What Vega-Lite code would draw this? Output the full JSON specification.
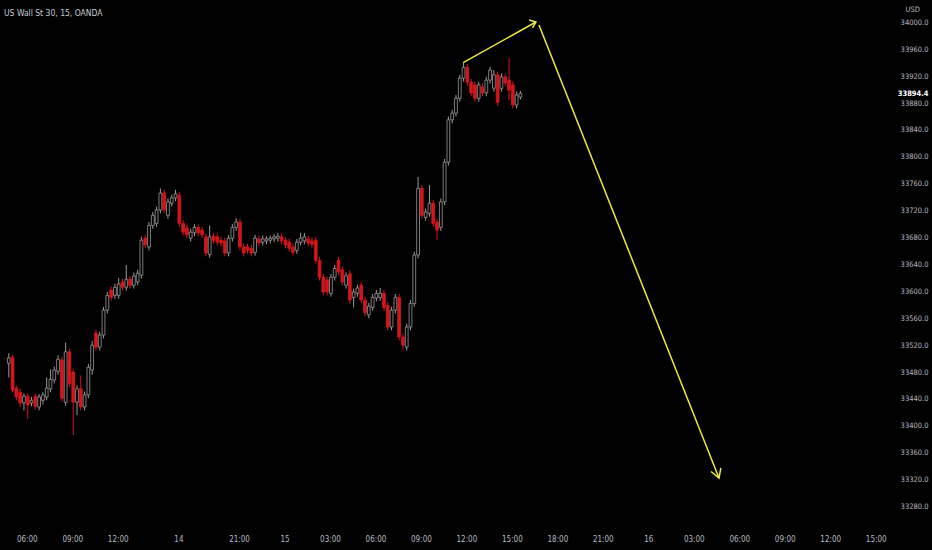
{
  "$schema": "https://vega.github.io/schema/vega-lite/v6.json",
  "width": 893,
  "height": 522,
  "autosize": {"type": "none"},
  "padding": {"left": 0, "top": 0, "right": 39, "bottom": 28},
  "background": "#000000",
  "title": {
    "text": "US Wall St 30, 15, OANDA",
    "anchor": "start",
    "frame": "group",
    "orient": "top",
    "offset": 0,
    "dy": 17,
    "dx": 4,
    "baseline": "top",
    "font": "Liberation Sans Narrow, DejaVu Sans Condensed, sans-serif",
    "fontSize": 8.5,
    "fontWeight": "normal",
    "color": "#c9ccd4"
  },
  "datasets": {
    "candles": [
      {"i":1,"o":33493,"h":33508,"l":33472,"c":33501},
      {"i":2,"o":33502,"h":33506,"l":33450,"c":33453},
      {"i":3,"o":33456,"h":33460,"l":33438,"c":33443},
      {"i":4,"o":33450,"h":33455,"l":33428,"c":33434},
      {"i":5,"o":33434,"h":33448,"l":33423,"c":33444},
      {"i":6,"o":33444,"h":33448,"l":33410,"c":33431},
      {"i":7,"o":33434,"h":33443,"l":33429,"c":33438},
      {"i":8,"o":33444,"h":33448,"l":33424,"c":33429},
      {"i":9,"o":33428,"h":33447,"l":33423,"c":33443},
      {"i":10,"o":33438,"h":33450,"l":33432,"c":33446},
      {"i":11,"o":33443,"h":33472,"l":33438,"c":33456},
      {"i":12,"o":33455,"h":33484,"l":33450,"c":33469},
      {"i":13,"o":33468,"h":33488,"l":33463,"c":33483},
      {"i":14,"o":33481,"h":33505,"l":33476,"c":33499},
      {"i":15,"o":33498,"h":33503,"l":33436,"c":33441},
      {"i":16,"o":33435,"h":33524,"l":33430,"c":33510},
      {"i":17,"o":33510,"h":33515,"l":33458,"c":33463},
      {"i":18,"o":33480,"h":33484,"l":33386,"c":33435},
      {"i":19,"o":33435,"h":33460,"l":33416,"c":33455},
      {"i":20,"o":33455,"h":33475,"l":33423,"c":33428},
      {"i":21,"o":33428,"h":33451,"l":33423,"c":33446},
      {"i":22,"o":33446,"h":33492,"l":33441,"c":33487},
      {"i":23,"o":33483,"h":33526,"l":33476,"c":33520},
      {"i":24,"o":33538,"h":33543,"l":33512,"c":33517},
      {"i":25,"o":33517,"h":33540,"l":33512,"c":33535},
      {"i":26,"o":33535,"h":33577,"l":33530,"c":33572},
      {"i":27,"o":33572,"h":33599,"l":33567,"c":33594},
      {"i":28,"o":33602,"h":33607,"l":33586,"c":33591},
      {"i":29,"o":33594,"h":33611,"l":33589,"c":33606},
      {"i":30,"o":33594,"h":33620,"l":33589,"c":33611},
      {"i":31,"o":33614,"h":33619,"l":33601,"c":33606},
      {"i":32,"o":33606,"h":33639,"l":33601,"c":33618},
      {"i":33,"o":33618,"h":33623,"l":33604,"c":33609},
      {"i":34,"o":33609,"h":33628,"l":33604,"c":33623},
      {"i":35,"o":33614,"h":33632,"l":33609,"c":33627},
      {"i":36,"o":33624,"h":33681,"l":33619,"c":33676},
      {"i":37,"o":33679,"h":33684,"l":33664,"c":33669},
      {"i":38,"o":33666,"h":33703,"l":33661,"c":33698},
      {"i":39,"o":33698,"h":33718,"l":33693,"c":33713},
      {"i":40,"o":33701,"h":33726,"l":33696,"c":33721},
      {"i":41,"o":33721,"h":33753,"l":33716,"c":33746},
      {"i":42,"o":33746,"h":33751,"l":33716,"c":33721},
      {"i":43,"o":33713,"h":33738,"l":33708,"c":33733},
      {"i":44,"o":33731,"h":33744,"l":33726,"c":33739},
      {"i":45,"o":33739,"h":33751,"l":33734,"c":33745},
      {"i":46,"o":33743,"h":33748,"l":33696,"c":33701},
      {"i":47,"o":33701,"h":33706,"l":33683,"c":33688},
      {"i":48,"o":33694,"h":33699,"l":33679,"c":33684},
      {"i":49,"o":33679,"h":33693,"l":33674,"c":33688},
      {"i":50,"o":33687,"h":33700,"l":33682,"c":33695},
      {"i":51,"o":33695,"h":33700,"l":33682,"c":33687},
      {"i":52,"o":33691,"h":33696,"l":33679,"c":33684},
      {"i":53,"o":33681,"h":33686,"l":33652,"c":33657},
      {"i":54,"o":33655,"h":33698,"l":33650,"c":33681},
      {"i":55,"o":33682,"h":33687,"l":33671,"c":33676},
      {"i":56,"o":33681,"h":33686,"l":33668,"c":33673},
      {"i":57,"o":33676,"h":33681,"l":33667,"c":33672},
      {"i":58,"o":33675,"h":33680,"l":33652,"c":33657},
      {"i":59,"o":33657,"h":33684,"l":33652,"c":33679},
      {"i":60,"o":33679,"h":33700,"l":33674,"c":33695},
      {"i":61,"o":33695,"h":33709,"l":33690,"c":33703},
      {"i":62,"o":33703,"h":33708,"l":33661,"c":33666},
      {"i":63,"o":33666,"h":33671,"l":33652,"c":33657},
      {"i":64,"o":33666,"h":33671,"l":33656,"c":33661},
      {"i":65,"o":33664,"h":33669,"l":33652,"c":33657},
      {"i":66,"o":33658,"h":33684,"l":33653,"c":33679},
      {"i":67,"o":33678,"h":33683,"l":33667,"c":33672},
      {"i":68,"o":33673,"h":33683,"l":33668,"c":33678},
      {"i":69,"o":33675,"h":33682,"l":33670,"c":33678},
      {"i":70,"o":33676,"h":33683,"l":33671,"c":33679},
      {"i":71,"o":33678,"h":33685,"l":33673,"c":33681},
      {"i":72,"o":33679,"h":33687,"l":33674,"c":33682},
      {"i":73,"o":33681,"h":33686,"l":33670,"c":33675},
      {"i":74,"o":33676,"h":33681,"l":33664,"c":33669},
      {"i":75,"o":33673,"h":33678,"l":33659,"c":33664},
      {"i":76,"o":33666,"h":33671,"l":33653,"c":33658},
      {"i":77,"o":33661,"h":33678,"l":33656,"c":33673},
      {"i":78,"o":33673,"h":33687,"l":33668,"c":33679},
      {"i":79,"o":33675,"h":33687,"l":33670,"c":33681},
      {"i":80,"o":33678,"h":33683,"l":33667,"c":33672},
      {"i":81,"o":33675,"h":33680,"l":33665,"c":33670},
      {"i":82,"o":33676,"h":33681,"l":33641,"c":33646},
      {"i":83,"o":33646,"h":33651,"l":33616,"c":33621},
      {"i":84,"o":33621,"h":33626,"l":33594,"c":33599},
      {"i":85,"o":33617,"h":33622,"l":33594,"c":33599},
      {"i":86,"o":33597,"h":33626,"l":33592,"c":33621},
      {"i":87,"o":33621,"h":33639,"l":33616,"c":33634},
      {"i":88,"o":33646,"h":33651,"l":33624,"c":33629},
      {"i":89,"o":33632,"h":33637,"l":33609,"c":33614},
      {"i":90,"o":33609,"h":33628,"l":33604,"c":33623},
      {"i":91,"o":33626,"h":33631,"l":33582,"c":33587},
      {"i":92,"o":33591,"h":33604,"l":33576,"c":33599},
      {"i":93,"o":33597,"h":33610,"l":33592,"c":33605},
      {"i":94,"o":33609,"h":33614,"l":33582,"c":33587},
      {"i":95,"o":33587,"h":33592,"l":33563,"c":33568},
      {"i":96,"o":33565,"h":33583,"l":33560,"c":33578},
      {"i":97,"o":33576,"h":33596,"l":33571,"c":33591},
      {"i":98,"o":33590,"h":33602,"l":33585,"c":33597},
      {"i":99,"o":33591,"h":33605,"l":33586,"c":33597},
      {"i":100,"o":33597,"h":33602,"l":33571,"c":33576},
      {"i":101,"o":33579,"h":33584,"l":33542,"c":33547},
      {"i":102,"o":33547,"h":33577,"l":33542,"c":33572},
      {"i":103,"o":33572,"h":33596,"l":33567,"c":33591},
      {"i":104,"o":33591,"h":33596,"l":33527,"c":33532},
      {"i":105,"o":33532,"h":33537,"l":33513,"c":33520},
      {"i":106,"o":33517,"h":33552,"l":33512,"c":33547},
      {"i":107,"o":33547,"h":33587,"l":33542,"c":33582},
      {"i":108,"o":33582,"h":33659,"l":33577,"c":33654},
      {"i":109,"o":33654,"h":33770,"l":33649,"c":33753},
      {"i":110,"o":33753,"h":33758,"l":33708,"c":33713},
      {"i":111,"o":33710,"h":33723,"l":33705,"c":33718},
      {"i":112,"o":33716,"h":33758,"l":33711,"c":33731},
      {"i":113,"o":33731,"h":33736,"l":33696,"c":33701},
      {"i":114,"o":33703,"h":33708,"l":33676,"c":33691},
      {"i":115,"o":33695,"h":33738,"l":33690,"c":33733},
      {"i":116,"o":33733,"h":33797,"l":33728,"c":33792},
      {"i":117,"o":33792,"h":33860,"l":33787,"c":33855},
      {"i":118,"o":33855,"h":33870,"l":33850,"c":33865},
      {"i":119,"o":33865,"h":33892,"l":33860,"c":33887},
      {"i":120,"o":33887,"h":33922,"l":33882,"c":33917},
      {"i":121,"o":33917,"h":33941,"l":33912,"c":33933},
      {"i":122,"o":33933,"h":33938,"l":33906,"c":33911},
      {"i":123,"o":33911,"h":33916,"l":33890,"c":33895},
      {"i":124,"o":33907,"h":33912,"l":33882,"c":33887},
      {"i":125,"o":33887,"h":33912,"l":33882,"c":33907},
      {"i":126,"o":33904,"h":33909,"l":33890,"c":33895},
      {"i":127,"o":33895,"h":33919,"l":33890,"c":33914},
      {"i":128,"o":33914,"h":33934,"l":33909,"c":33929},
      {"i":129,"o":33902,"h":33929,"l":33897,"c":33922},
      {"i":130,"o":33922,"h":33927,"l":33876,"c":33881},
      {"i":131,"o":33902,"h":33924,"l":33897,"c":33919},
      {"i":132,"o":33919,"h":33924,"l":33905,"c":33910},
      {"i":133,"o":33914,"h":33947,"l":33884,"c":33899},
      {"i":134,"o":33907,"h":33912,"l":33872,"c":33877},
      {"i":135,"o":33877,"h":33897,"l":33872,"c":33892},
      {"i":136,"o":33889,"h":33898,"l":33885,"c":33894.4}
    ],
    "arrows": [
      {"s":"a1","k":0,"x":120.9,"p":33940},
      {"s":"a1","k":1,"x":140.1,"p":34000.5},
      {"s":"h1","k":0,"x":138.3,"p":34003.5},
      {"s":"h1","k":1,"x":140.1,"p":34000.5},
      {"s":"h1","k":2,"x":139.2,"p":33991.6},
      {"s":"a2","k":0,"x":140.9,"p":33996.0},
      {"s":"a2","k":1,"x":188.4,"p":33322.4},
      {"s":"h2","k":0,"x":186.3,"p":33332.1},
      {"s":"h2","k":1,"x":188.4,"p":33322.4},
      {"s":"h2","k":2,"x":188.9,"p":33337.3}
    ],
    "last": [{"price": 33894.4}]
  },
  "layer": [
    {
      "data": {"name": "last"},
      "mark": {"type": "rule", "color": "#5e2750", "strokeWidth": 1},
      "encoding": {
        "y": {"field": "price", "type": "quantitative"}
      }
    },
    {
      "data": {"name": "candles"},
      "mark": {"type": "rule", "strokeWidth": 1},
      "encoding": {
        "x": {"field": "i", "type": "quantitative"},
        "y": {"field": "l", "type": "quantitative"},
        "y2": {"field": "h"},
        "stroke": {"condition": {"test": "datum.c >= datum.o", "value": "#9a9a9a"}, "value": "#d4161b"}
      }
    },
    {
      "data": {"name": "candles"},
      "mark": {"type": "bar", "width": 2.8, "strokeWidth": 0.8},
      "encoding": {
        "x": {"field": "i", "type": "quantitative"},
        "y": {"field": "o", "type": "quantitative"},
        "y2": {"field": "c"},
        "fill": {"condition": {"test": "datum.c >= datum.o", "value": "#000000"}, "value": "#d4161b"},
        "stroke": {"condition": {"test": "datum.c >= datum.o", "value": "#9a9a9a"}, "value": "#d4161b"}
      }
    },
    {
      "data": {"name": "arrows"},
      "mark": {"type": "line", "color": "#ecec3c", "strokeWidth": 1.5, "clip": false},
      "encoding": {
        "x": {"field": "x", "type": "quantitative"},
        "y": {"field": "p", "type": "quantitative"},
        "detail": {"field": "s"},
        "order": {"field": "k"}
      }
    }
  ],
  "resolve": {"scale": {"x": "shared", "y": "shared"}},
  "encoding": {
    "x": {
      "field": "i",
      "type": "quantitative",
      "scale": {"domain": [0, 233], "nice": false, "zero": false},
      "axis": {
        "title": null,
        "orient": "bottom",
        "values": [5.75, 17.75, 29.75, 45.75, 61.75, 73.75, 85.75, 97.75, 109.75, 121.75, 133.75, 145.75, 157.75, 169.75, 181.75, 193.75, 205.75, 217.75, 229.75],
        "labelExpr": "['06:00','09:00','12:00','14','21:00','15','03:00','06:00','09:00','12:00','15:00','18:00','21:00','16','03:00','06:00','09:00','12:00','15:00'][indexof([5.75, 17.75, 29.75, 45.75, 61.75, 73.75, 85.75, 97.75, 109.75, 121.75, 133.75, 145.75, 157.75, 169.75, 181.75, 193.75, 205.75, 217.75, 229.75], datum.value)]",
        "domain": false,
        "ticks": false,
        "grid": false,
        "labelOverlap": false,
        "labelFlush": false,
        "labelBound": false,
        "labelPadding": 13,
        "labelBaseline": "top",
        "labelFont": "Liberation Sans Narrow, DejaVu Sans Condensed, sans-serif",
        "labelFontSize": 8,
        "labelColor": "#b8bbc4"
      }
    },
    "y": {
      "type": "quantitative",
      "scale": {"domain": [33257, 34033.2], "nice": false, "zero": false},
      "axis": {
        "title": "USD",
        "orient": "right",
        "values": [33280, 33320, 33360, 33400, 33440, 33480, 33520, 33560, 33600, 33640, 33680, 33720, 33760, 33800, 33840, 33880, 33894.4, 33920, 33960, 34000],
        "format": ".1f",
        "domain": false,
        "ticks": false,
        "grid": false,
        "labelOverlap": false,
        "labelFlush": false,
        "labelBound": false,
        "labelAlign": "right",
        "labelBaseline": "middle",
        "labelPadding": 35,
        "labelFont": "Liberation Sans Narrow, DejaVu Sans Condensed, sans-serif",
        "labelFontSize": 7.5,
        "labelColor": {"condition": {"test": "datum.value == 33894.4", "value": "#ffffff"}, "value": "#b8bbc4"},
        "labelFontWeight": {"condition": {"test": "datum.value == 33894.4", "value": "bold"}, "value": "normal"},
        "titleAngle": 0,
        "titleAlign": "left",
        "titleBaseline": "middle",
        "titleX": 12,
        "titleY": 9,
        "titleFont": "Liberation Sans Narrow, DejaVu Sans Condensed, sans-serif",
        "titleFontSize": 7.5,
        "titleFontWeight": "normal",
        "titleColor": "#b8bbc4"
      }
    }
  },
  "config": {"view": {"stroke": null}}
}
